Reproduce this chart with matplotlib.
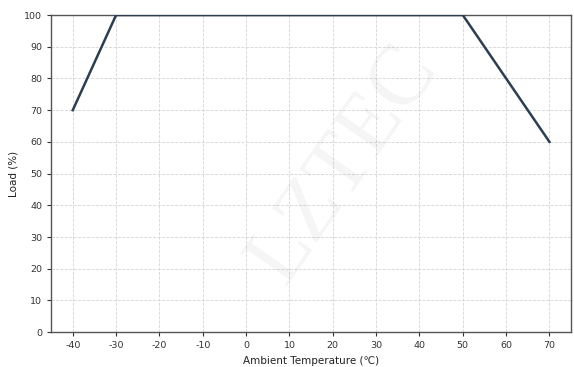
import matplotlib
matplotlib.use("Agg")
import matplotlib.pyplot as plt

plt.rcParams["axes.unicode_minus"] = False

# derating curve
temps = [-40, -30, 50, 60, 70]
loads = [70, 100, 100, 80, 60]
x_ticks = [-40, -30, -20, -10, 0, 10, 20, 30, 40, 50, 60, 70]
y_ticks = [0, 10, 20, 30, 40, 50, 60, 70, 80, 90, 100]

fig = plt.figure(figsize=(5.74, 3.67), dpi=100)
ax = fig.add_axes([0.089, 0.095, 0.906, 0.864])

ax.plot(temps, loads, color="#2c3e50", linewidth=1.8, zorder=3)

ax.set_xlim(-45, 75)
ax.set_ylim(0, 100)
ax.set_xticks(x_ticks)
ax.set_yticks(y_ticks)
ax.tick_params(labelsize=6.8, colors="#333333", length=3)
ax.grid(True, linestyle="--", color="#d5d5d5", linewidth=0.6)

for s in ax.spines.values():
    s.set_color("#555555")
    s.set_linewidth(1.0)

ax.set_xlabel("Ambient Temperature (℃)", fontsize=7.5, color="#222222")
ax.set_ylabel("Load (%)", fontsize=7.5, color="#222222")

# faint watermark
fig.text(0.6, 0.55, "LZTEC", fontsize=62, family="Liberation Serif",
         color="#000000", alpha=0.045, rotation=55, ha="center", va="center")

fig.savefig("out.png", dpi=100)
